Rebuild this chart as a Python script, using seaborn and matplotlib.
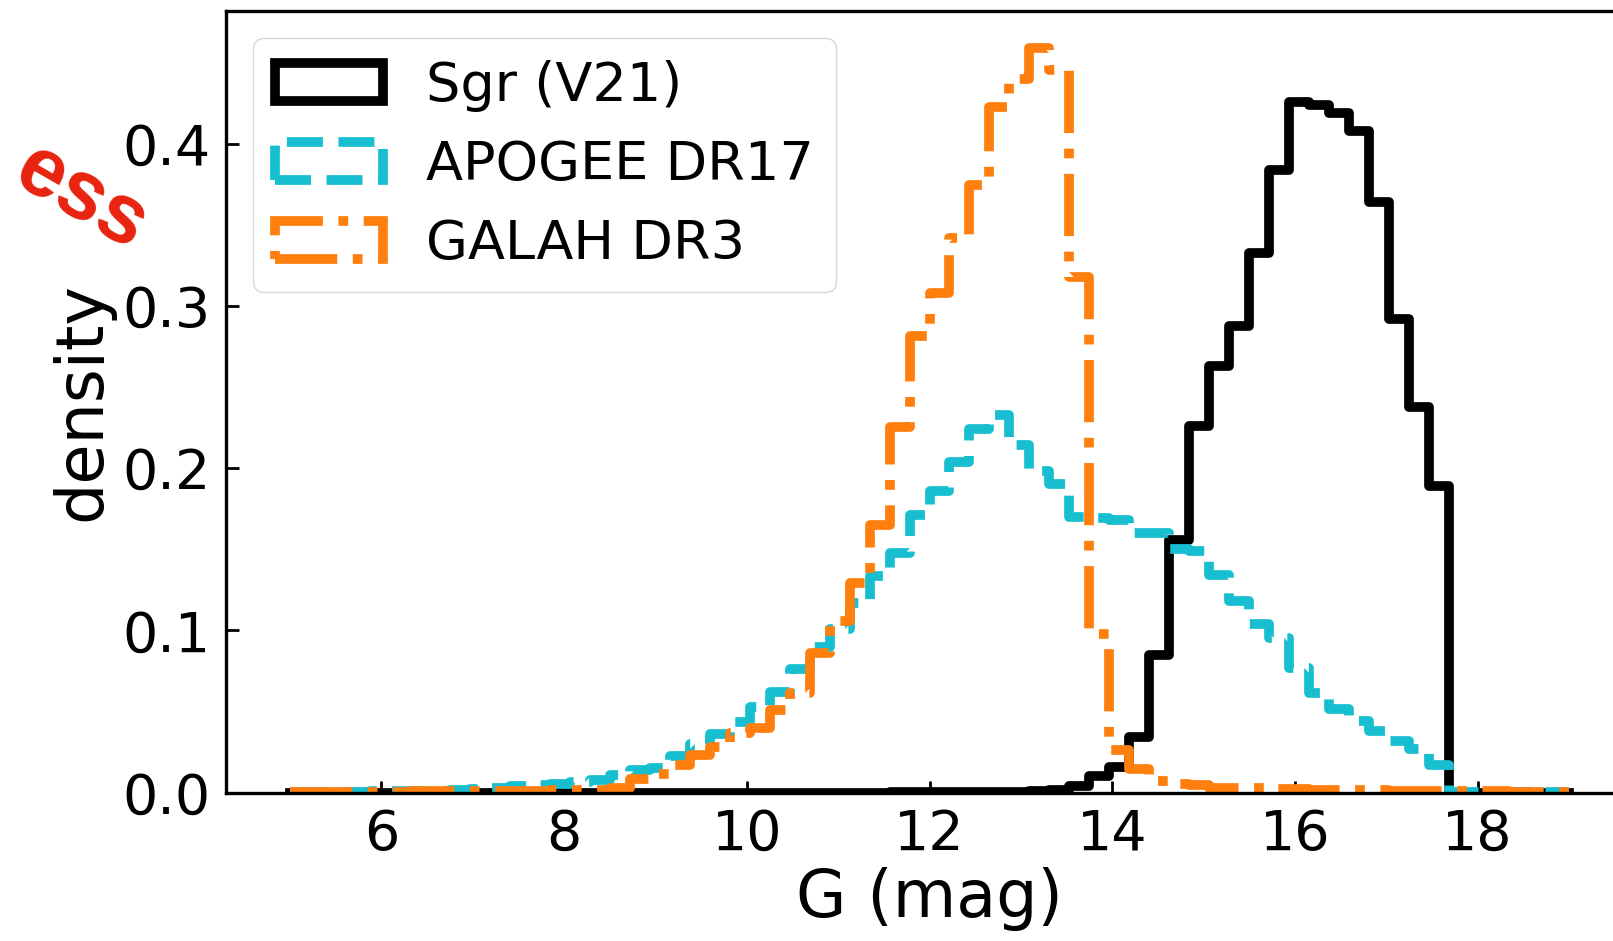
import numpy as np
import pandas as pd
import matplotlib
matplotlib.use("Agg")
import matplotlib.pyplot as plt
import matplotlib.patches as mpatches
import seaborn as sns

# ---------------------------------------
# 1. Data: density per bin, 64 bins of 0.21875 mag from G=5 to G=19
# ---------------------------------------
g_min, g_max, n_bins = 5.0, 19.0, 64
bin_width = (g_max - g_min) / n_bins
bin_centers = g_min + bin_width * (np.arange(n_bins) + 0.5)

sgr_density = [
    0, 0, 0, 0, 0, 0, 0, 0, 0, 0,
    0, 0, 0, 0, 0, 0, 0, 0, 0, 0,
    0, 0, 0, 0, 0, 0, 0, 0, 0, 0,
    0.0002, 0.0002, 0.0003, 0.0003, 0.0004, 0.0004, 0.0005, 0.001, 0.0016, 0.004,
    0.010, 0.016, 0.034, 0.085, 0.156, 0.226, 0.263, 0.288, 0.333, 0.384,
    0.426, 0.424, 0.419, 0.408, 0.364, 0.292, 0.238, 0.189, 0, 0,
    0, 0.0003, 0, 0,
]

apogee_density = [
    0.0005, 0.0005, 0.0005, 0.0005, 0.0007, 0.0008, 0.001, 0.0012, 0.0015, 0.002,
    0.0025, 0.004, 0.0045, 0.005, 0.0065, 0.0075, 0.011, 0.014, 0.015, 0.0225,
    0.030, 0.036, 0.0437, 0.053, 0.062, 0.076, 0.090, 0.101, 0.117, 0.1335,
    0.1476, 0.171, 0.186, 0.204, 0.224, 0.233, 0.2146, 0.198, 0.190, 0.170,
    0.169, 0.168, 0.160, 0.160, 0.150, 0.149, 0.134, 0.118, 0.104, 0.0955,
    0.077, 0.0616, 0.0513, 0.0441, 0.038, 0.0318, 0.0267, 0.017, 0.0005, 0.0005,
    0.0005, 0.0005, 0.0005, 0.0005,
]

galah_density = [
    0.0005, 0.0005, 0.0005, 0.0005, 0.0006, 0.0006, 0.0008, 0.0008, 0.0008, 0.0008,
    0.001, 0.0012, 0.0012, 0.0015, 0.0015, 0.0018, 0.0025, 0.0083, 0.0115, 0.017,
    0.023, 0.028, 0.0365, 0.040, 0.051, 0.0615, 0.086, 0.1055, 0.129, 0.165,
    0.2257, 0.2818, 0.308, 0.342, 0.3748, 0.423, 0.440, 0.459, 0.4457, 0.318,
    0.098, 0.026, 0.0145, 0.007, 0.005, 0.0046, 0.0026, 0.0026, 0.0026, 0.002,
    0.002, 0.0015, 0.0015, 0.0015, 0.0015, 0.001, 0.001, 0.001, 0.001, 0.001,
    0.0008, 0.0005, 0.0005, 0.0003,
]

labels = ["Sgr (V21)", "APOGEE DR17", "GALAH DR3"]
colors = ["black", "#17becf", "#ff7f0e"]
linestyles = ["-", "--", "-."]
series = [sgr_density, apogee_density, galah_density]

# ---------------------------------------
# 2. Plot
# ---------------------------------------
plt.rcParams["font.family"] = ["DejaVu Sans"]
lw = 7

fig = plt.figure(figsize=(16.13, 9.41), dpi=100)
ax = fig.add_axes([226 / 1613, 148.5 / 941, 1407 / 1613, 781.5 / 941])

for vals, c, ls in zip(series, colors, linestyles):
    df = pd.DataFrame({"G": bin_centers, "w": vals})
    sns.histplot(data=df, x="G", weights="w", binwidth=bin_width,
                 binrange=(g_min, g_max), element="step", fill=False,
                 color=c, linestyle=ls, linewidth=lw, ax=ax)

ax.set_xlim(4.3, 19.7)
ax.set_ylim(0, 0.482)
ax.set_xticks([6, 8, 10, 12, 14, 16, 18])
ax.set_yticks([0.0, 0.1, 0.2, 0.3, 0.4])
ax.set_xlabel("G (mag)", fontsize=47, labelpad=4)
ax.set_ylabel("density", fontsize=47, labelpad=6)
ax.tick_params(direction="in", length=9, width=2, labelsize=40, pad=11)
for sp in ax.spines.values():
    sp.set_linewidth(2.4)

handles = [mpatches.Patch(facecolor="none", edgecolor=c, linestyle=ls, linewidth=lw, label=lab)
           for c, ls, lab in zip(colors, linestyles, labels)]
ax.legend(handles=handles, loc="upper left", fontsize=39)

# red watermark text at the top left
fig.text(10 / 1613, 1 - 182 / 941, "ess", color="#e8230f", fontsize=60,
         fontweight="bold", family=["Liberation Sans", "DejaVu Sans"],
         rotation=-30, rotation_mode="anchor", ha="left", va="baseline")

fig.savefig("out.png", dpi=100)
